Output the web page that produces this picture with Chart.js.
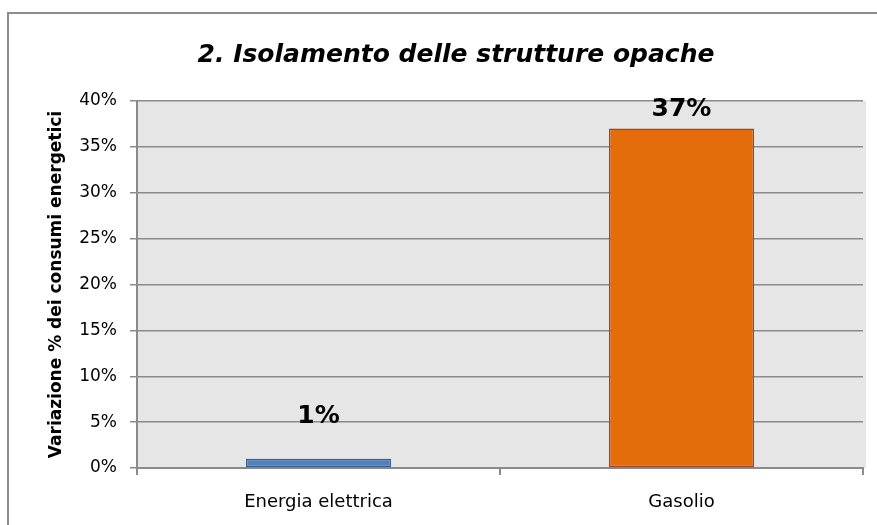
<!DOCTYPE html>
<html>
<head>
<meta charset="utf-8">
<script src="https://cdn.jsdelivr.net/npm/chart.js@4.4.1/dist/chart.umd.min.js"></script>
<style>
  html, body { margin: 0; padding: 0; background: #ffffff; }
  #wrap { width: 877px; height: 525px; position: relative; }
</style>
</head>
<body>
<div id="wrap"><canvas id="barChart" width="877" height="525"></canvas></div>
<script>
// dati
var categories = ['Energia elettrica', 'Gasolio'];
var values = [1, 37];
var valueLabels = ['1%', '37%'];
var yTicks = [0, 5, 10, 15, 20, 25, 30, 35, 40];

var chartTitle = '2. Isolamento delle strutture opache';
var yTitle = 'Variazione % dei consumi energetici';

var fontName = '"DejaVu Sans", sans-serif';
var gridColor = '#8a8a8a';

// sfondo grigio dell'area del grafico + cornice esterna
var backgroundPlugin = {
    id: 'plotBackground',
    beforeDraw: function (chart) {
        var ctx = chart.ctx;
        var a = chart.chartArea;
        ctx.save();
        ctx.fillStyle = '#ffffff';
        ctx.fillRect(0, 0, chart.width, chart.height);
        ctx.fillStyle = '#e6e6e6';
        ctx.fillRect(a.left, a.top, a.right - a.left + 3, a.bottom - a.top);
        ctx.strokeStyle = '#8c8c8c';
        ctx.lineWidth = 2;
        ctx.beginPath();
        ctx.moveTo(8, chart.height + 2);
        ctx.lineTo(8, 13);
        ctx.lineTo(chart.width + 2, 13);
        ctx.stroke();
        ctx.restore();
    }
};

// titolo e etichette dei valori sopra le barre
var labelsPlugin = {
    id: 'valueLabels',
    afterDraw: function (chart, args, opts) {
        var ctx = chart.ctx;
        ctx.save();
        ctx.fillStyle = '#000000';
        ctx.textAlign = 'center';
        ctx.textBaseline = 'alphabetic';
        ctx.font = 'italic bold 25px ' + fontName;
        ctx.fillText(chartTitle, 456, 62);

        ctx.font = 'bold 25px ' + fontName;
        var meta = chart.getDatasetMeta(0);
        meta.data.forEach(function (bar, i) {
            ctx.fillText(valueLabels[i], bar.x, bar.y - opts.offsets[i]);
        });
        ctx.restore();
    }
};

function makeChart() {
    var ctx1 = document.getElementById('barChart').getContext('2d');
    var barChart1 = new Chart(ctx1, {
        type: 'bar',
        data: {
            labels: categories,
            datasets: [{
                label: 'Variazione',
                data: values,
                backgroundColor: ['#4f81bd', '#e46c0a'],
                borderColor: ['#3a5f8b', '#a2432b'],
                borderWidth: 1.5,
                borderSkipped: false,
                barPercentage: 0.4,
                categoryPercentage: 1.0
            }]
        },
        options: {
            responsive: false,
            animation: false,
            layout: {
                padding: { left: 0, top: 101, right: 14, bottom: 0 }
            },
            plugins: {
                legend: { display: false },
                tooltip: { enabled: false },
                title: { display: false },
                valueLabels: { offsets: [36, 13] }
            },
            scales: {
                x: {
                    offset: true,
                    grid: {
                        offset: true,
                        drawOnChartArea: false,
                        drawTicks: true,
                        tickLength: 7,
                        color: gridColor,
                        lineWidth: 2
                    },
                    border: { color: gridColor, width: 2 },
                    ticks: {
                        color: '#000000',
                        padding: 17,
                        font: { family: fontName, size: 18 }
                    },
                    afterFit: function (scale) { scale.height = 57; }
                },
                y: {
                    min: 0,
                    max: 40,
                    afterBuildTicks: function (scale) {
                        scale.ticks = yTicks.map(function (v) { return { value: v }; });
                    },
                    grid: {
                        color: gridColor,
                        lineWidth: 1.5,
                        tickLength: 7
                    },
                    border: { color: gridColor, width: 2 },
                    ticks: {
                        color: '#000000',
                        padding: 13,
                        font: { family: fontName, size: 17 },
                        callback: function (v) { return v + '%'; }
                    },
                    title: {
                        display: true,
                        text: yTitle,
                        color: '#000000',
                        padding: { top: 46, bottom: 0 },
                        font: { family: fontName, size: 17, weight: 'bold' }
                    },
                    afterFit: function (scale) { scale.width = 137; }
                }
            }
        },
        plugins: [backgroundPlugin, labelsPlugin]
    });
}

makeChart();
</script>
</body>
</html>
